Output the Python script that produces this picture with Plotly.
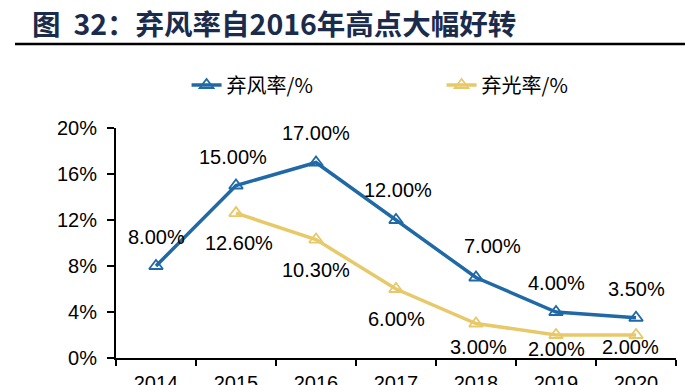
import plotly.graph_objects as go

years = ["2014", "2015", "2016", "2017", "2018", "2019", "2020"]
wind = [8.0, 15.0, 17.0, 12.0, 7.0, 4.0, 3.5]
solar_years = ["2015", "2016", "2017", "2018", "2019", "2020"]
solar = [12.6, 10.3, 6.0, 3.0, 2.0, 2.0]
y_ticks = [0, 4, 8, 12, 16, 20]
y_tick_labels = ["0%", "4%", "8%", "12%", "16%", "20%"]

# label offsets (pixels) for readability, like the original
wind_shift = [(0, 29), (-3, 29), (0, 30), (2, 30), (16, 32), (0, 29), (0, 29)]
solar_shift = [(3, -30), (0, -30), (0, -30), (2, -23), (0, -14), (-6, -12)]

BLUE = "#1f69a6"
YELLOW = "#e8c96a"
FONT = "Liberation Sans, Arial, sans-serif"
CJK = "Noto Sans CJK SC"

wind_x = [years.index(y) for y in years]
solar_x = [years.index(y) for y in solar_years]

fig = go.Figure()
fig.add_trace(go.Scatter(
    x=wind_x, y=wind, mode="lines+markers", name="弃风率/%",
    line=dict(color=BLUE, width=3.5),
    marker=dict(symbol="triangle-up-open", size=12, color=BLUE,
                line=dict(width=1.8, color=BLUE)),
))
fig.add_trace(go.Scatter(
    x=solar_x, y=solar, mode="lines+markers", name="弃光率/%",
    line=dict(color=YELLOW, width=3.5),
    marker=dict(symbol="triangle-up-open", size=12, color=YELLOW,
                line=dict(width=1.8, color=YELLOW)),
))

for xv, yv, (dx, dy) in zip(wind_x, wind, wind_shift):
    fig.add_annotation(x=xv, y=yv, text=f"{yv:.2f}%", showarrow=False,
                       xshift=dx, yshift=dy,
                       font=dict(family=FONT, size=20, color="black"))
for xv, yv, (dx, dy) in zip(solar_x, solar, solar_shift):
    fig.add_annotation(x=xv, y=yv, text=f"{yv:.2f}%", showarrow=False,
                       xshift=dx, yshift=dy,
                       font=dict(family=FONT, size=20, color="black"))

# Title
fig.add_annotation(xref="paper", yref="paper", x=-86/560, y=1.0 + 106/230,
                   xanchor="left", yanchor="middle", showarrow=False,
                   text="<b>图  32：弃风率自2016年高点大幅好转</b>",
                   font=dict(family=CJK, size=28.5, color="#1b2b4b"))
fig.add_shape(type="line", xref="paper", yref="paper",
              x0=-101/560, x1=1.0 + 25/560, y0=1.0 + 84/230, y1=1.0 + 84/230,
              line=dict(color="black", width=2.5))

fig.update_layout(
    width=693, height=385,
    margin=dict(l=108, r=25, t=120, b=35, autoexpand=False),
    plot_bgcolor="white", paper_bgcolor="white",
    showlegend=True,
    legend=dict(orientation="h", x=0.126, y=1.0 + 43/230, xanchor="left",
                yanchor="middle", entrywidth=210, entrywidthmode="pixels",
                font=dict(family=CJK, size=20, color="black"),
                bgcolor="rgba(0,0,0,0)"),
    xaxis=dict(range=[-0.5, 6.5], tickvals=wind_x, ticktext=years,
               showline=True, linecolor="black", linewidth=2,
               ticks="", showgrid=False, zeroline=False, automargin=False,
               ticklabelstandoff=6,
               minor=dict(tickvals=[i - 0.5 for i in range(len(years) + 1)],
                          ticks="outside", ticklen=6, tickwidth=2,
                          tickcolor="black", showgrid=False),
               tickfont=dict(family=FONT, size=20, color="black")),
    yaxis=dict(range=[0, 20], tickvals=y_ticks, ticktext=y_tick_labels,
               showline=True, linecolor="black", linewidth=2,
               ticks="outside", ticklen=7, tickwidth=2, tickcolor="black",
               showgrid=False, zeroline=False, ticklabelstandoff=6,
               automargin=False,
               tickfont=dict(family=FONT, size=20, color="black")),
)

fig.write_html("out.html")
